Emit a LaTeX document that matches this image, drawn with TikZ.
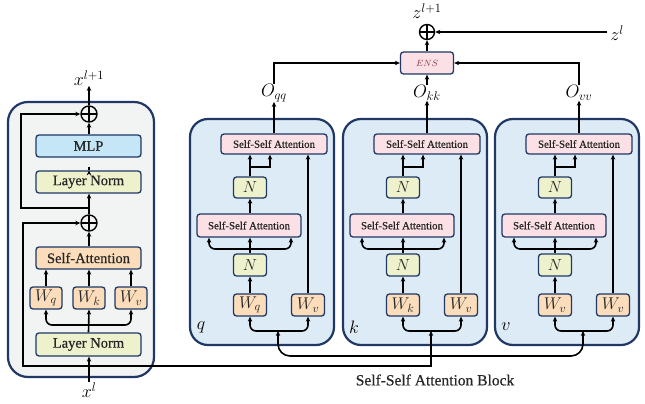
\RequirePackage{fix-cm}
\documentclass[tikz,border=0pt]{standalone}
\usepackage{fontspec}
\setmainfont{Liberation Serif}[FakeBold=0.6]
\usetikzlibrary{arrows.meta,calc}
\definecolor{navy}{HTML}{1F3864}
\definecolor{leftfill}{HTML}{F2F3F3}
\definecolor{blkfill}{HTML}{DDEBF7}
\definecolor{ssafill}{HTML}{FBE0E5}
\definecolor{lnfill}{HTML}{EEF2CC}
\definecolor{wfill}{HTML}{FCDDBB}
\definecolor{mlpfill}{HTML}{C4E6F6}
\definecolor{textc}{HTML}{262626}
\definecolor{enstext}{HTML}{8B2F40}
\begin{document}
\begin{tikzpicture}[x=1pt,y=-1pt,
  arr/.style={line width=1.6pt,-{Stealth[length=5pt,width=4.5pt]}},
  box/.style={draw=navy,line width=1.3pt,rounded corners=3pt,inner sep=0pt,text=textc},
  lbox/.style={box,minimum width=105pt,minimum height=22pt,font=\fontsize{14.5}{16}\selectfont},
  wbox/.style={box,fill=wfill,minimum width=32pt,minimum height=22pt,font=\fontsize{17}{19}\selectfont},
  nbox/.style={box,fill=lnfill,minimum width=33pt,minimum height=21pt,font=\fontsize{16}{18}\selectfont},
  ssa/.style={box,fill=ssafill,minimum width=106pt,minimum height=20pt,font=\fontsize{10.8}{12}\selectfont},
  lab/.style={inner sep=0pt,font=\fontsize{18}{20}\selectfont},
  blockL/.style={draw=navy,fill=leftfill,line width=2.2pt,rounded corners=20pt,minimum width=146pt,minimum height=275pt,inner sep=0pt},
  blockR/.style={draw=navy,fill=blkfill,line width=2.2pt,rounded corners=18pt,minimum width=144pt,minimum height=226pt,inner sep=0pt},
  oplus/.style={circle,draw,line width=1.4pt,minimum size=16pt,inner sep=0pt,
    path picture={\draw[line width=1.4pt] (path picture bounding box.north) -- (path picture bounding box.south)
      (path picture bounding box.west) -- (path picture bounding box.east);}},
]
\useasboundingbox (0,0) rectangle (645,404);

% ---------- left block ----------
\node[blockL] (lb) at (81,239.5) {};
\node[oplus] (p1) at (89,114) {};
\node[lbox,fill=mlpfill] (mlp) at (88.5,146) {MLP};
\node[lbox,fill=lnfill] (ln2) at (88.5,182) {Layer Norm};
\node[oplus] (p2) at (89,223) {};
\node[lbox,fill=wfill] (sa) at (88.5,258) {Self-Attention};
\node[wbox] (lwq) at (46,298) {$W_q$};
\node[wbox] (lwk) at (89,298) {$W_k$};
\node[wbox] (lwv) at (131,298) {$W_v$};
\node[lbox,fill=lnfill,minimum height=23pt] (ln1) at (88.5,344.5) {Layer Norm};
\node[lab] (xl1) at (89,78) {$x^{l+1}$};
\node[lab] (xl) at (89,390) {$x^{l}$};

\coordinate (lbus) at (89,325);
\draw[arr] (ln1.north) -- (lwk.south);
\draw[arr,rounded corners=6pt] (lbus) -| (lwq.south);
\draw[arr,rounded corners=6pt] (lbus) -| (lwv.south);
\draw[arr] (lwq.north) -- (lwq.north |- sa.south);
\draw[arr] (lwk.north) -- (lwk.north |- sa.south);
\draw[arr] (lwv.north) -- (lwv.north |- sa.south);
\draw[arr] (sa.north -| p2) -- (p2.south);
\draw[arr] (p2.north) -- (p2.north |- ln2.south);
\draw[arr] (ln2.north -| p2) -- (ln2.north -| p2 |- mlp.south);
\draw[arr] (mlp.north -| p1) -- (p1.south);
\draw[arr] (p1.north) -- (xl1.south);
\draw[arr] (xl.north) -- (xl.north |- ln1.south);

\coordinate (j3) at (89,208);
\coordinate (r1) at (21,208);
\draw[arr] (j3) -- (r1) |- (p1.west);

% ---------- right blocks ----------
\foreach \bn/\dx/\wa/\wb/\os in {q/0/q/v/qq,k/153/k/v/kk,v/305/v/v/vv}{
  \node[blockR] (blk\bn) at (262+\dx,232) {};
  \node[ssa] (ta\bn) at (274+\dx,144) {Self-Self Attention};
  \node[nbox] (na\bn) at (250+\dx,187.5) {$N$};
  \node[ssa,minimum width=104pt,minimum height=23pt] (ma\bn) at (249+\dx,225.5) {Self-Self Attention};
  \node[nbox,minimum height=22pt] (nb\bn) at (250+\dx,265) {$N$};
  \node[wbox,minimum width=33pt] (wa\bn) at (250+\dx,305) {$W_{\wa}$};
  \node[wbox,minimum width=33pt] (wb\bn) at (308+\dx,305) {$W_{\wb}$};
  \node[lab] (o\bn) at (274+\dx,93) {$O_{\os}$};
  \node[lab] (l\bn) at (201+\dx,327) {$\bn$};
  \coordinate (bus\bn) at (278+\dx,331);
  \coordinate (mb\bn) at (250+\dx,249);
  \coordinate (br\bn) at (250+\dx,167);
  \draw[arr,rounded corners=6pt] (bus\bn) -| (wa\bn.south);
  \draw[arr,rounded corners=6pt] (bus\bn) -| (wb\bn.south);
  \draw[arr] (wa\bn.north) -- (nb\bn.south);
  \draw[arr] (nb\bn.north) -- (nb\bn.north |- ma\bn.south);
  \draw[arr,rounded corners=6pt] (mb\bn) -| ([xshift=-40pt]ma\bn.south);
  \draw[arr,rounded corners=6pt] (mb\bn) -| ([xshift=42pt]ma\bn.south);
  \draw[arr] (na\bn.south |- ma\bn.north) -- (na\bn.south);
  \draw[arr] (na\bn.north) -- (na\bn.north |- ta\bn.south);
  \draw[arr] (br\bn) -| ([xshift=-4pt]ta\bn.south);
  \draw[arr] (wb\bn.north) -- (wb\bn.north |- ta\bn.south);
  \draw[arr] (ta\bn.north) -- (o\bn.south);
}

% ---------- bottom connections ----------
\coordinate (j1) at (89,366);
\coordinate (r2) at (23,366);
\draw[arr] (j1) -- (r2) |- (p2.west);
\draw[arr] (j1) -| (busk);
\coordinate (j2) at (431,356);
\draw[arr,rounded corners=12pt] (j2) -| (busq);
\draw[arr,rounded corners=12pt] (j2) -| (busv);

% ---------- top ----------
\node[box,fill=ssafill,minimum width=53pt,minimum height=22pt,text=enstext,font=\fontsize{9}{10}\selectfont] (ens) at (427,63) {$ENS$};
\node[oplus,minimum size=15pt] (p3) at (427,32) {};
\node[lab] (zl1) at (427,11) {$z^{l+1}$};
\node[lab] (zl) at (617,33) {$z^{l}$};
\draw[arr] (oq.north) |- (ens.west);
\draw[arr] (ov.north) |- (ens.east);
\draw[arr] (ok.north) -- (ok.north |- ens.south);
\draw[arr] (ens.north) -- (p3.south);
\draw[arr] ([xshift=-3pt]zl.west |- p3.east) -- (p3.east);

\node[font=\fontsize{15.5}{18}\selectfont,text=textc] (cap) at (435,380) {Self-Self Attention Block};
\end{tikzpicture}
\end{document}
